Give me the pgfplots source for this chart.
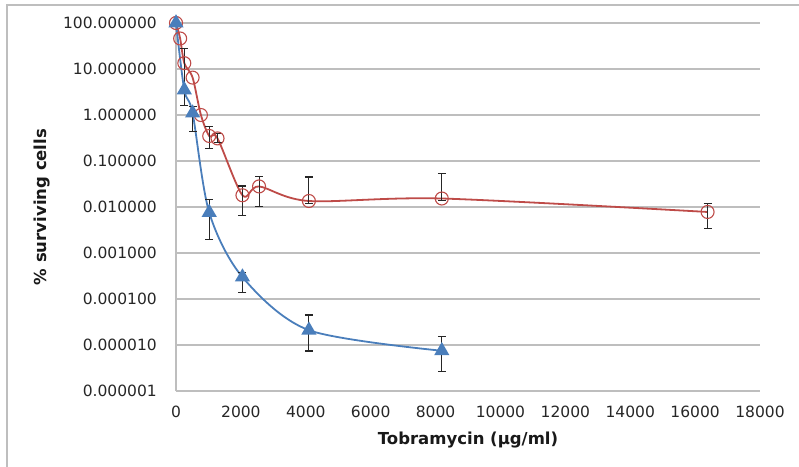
\documentclass[border=0pt]{standalone}
\usepackage{fontspec}
\setmainfont{DejaVu Sans}
\usepackage{pgfplots}
\usepackage{pgfplotstable}
\pgfplotsset{compat=1.18}

\definecolor{xlblue}{RGB}{74,126,187}
\definecolor{xlred}{RGB}{190,75,72}
\definecolor{gridgray}{RGB}{190,190,190}

% tobramycin survival, red = circles, blue = triangles
\pgfplotstableread{
x y
0 100
128 46
256 13.4
512 6.5
768 1.0
1024 0.35
1280 0.31
2048 0.018
2560 0.028
4096 0.0135
8192 0.0153
16384 0.0078
}\redline
\pgfplotstableread{
x y ep em
1024 0.35 0.22 0.16
1280 0.31 0.09 0.06
2048 0.018 0.0106 0.0116
2560 0.028 0.019 0.0178
4096 0.0135 0.0315 0.0015
8192 0.0153 0.0387 0.0013
16384 0.0078 0.0043 0.00437
}\rederr
\pgfplotstableread{
x y
0 100
256 3.5
512 1.1
1024 0.0076
2048 0.0003
4096 0.000021
8192 0.0000075
}\blueline
\pgfplotstableread{
x y ep em
256 3.5 24.5 1.9
512 1.1 0.44 0.66
1024 0.0076 0.0072 0.00566
2048 0.0003 0.00008 0.00016
4096 0.000021 0.000024 0.0000136
8192 0.0000075 0.000008 0.0000048
}\blueerr

\begin{document}
\begin{tikzpicture}
\useasboundingbox (0pt,0pt) rectangle (799pt,466pt);
\draw[line width=1.5pt, gridgray] (7pt,-20pt) -- (7pt,461pt) -- (820pt,461pt);
\begin{axis}[
  at={(176pt,75pt)}, anchor=south west,
  scale only axis, width=584pt, height=368pt,
  ymode=log, xmin=0, xmax=18000, ymin=1e-6, ymax=100,
  clip=false, scaled x ticks=false,
  axis x line*=bottom, axis y line*=left,
  axis line style={gridgray, line width=1.3pt},
  ymajorgrids, grid style={gridgray, line width=1.3pt},
  major tick length=0pt, yminorticks=false,
  xtick={0,2000,4000,6000,8000,10000,12000,14000,16000,18000},
  xticklabels={0,2000,4000,6000,8000,10000,12000,14000,16000,18000},
  ytick={1e-6,1e-5,1e-4,1e-3,1e-2,1e-1,1,10,100},
  yticklabels={0.000001,0.000010,0.000100,0.001000,0.010000,0.100000,1.000000,10.000000,100.000000},
  ticklabel style={font=\fontsize{15.5}{16}\selectfont, text=black!85},
  yticklabel style={anchor=east, inner sep=0pt, xshift=-19pt},
  xticklabel style={anchor=north, inner sep=0pt, yshift=-15pt},
  xlabel={Tobramycin (µg/ml)},
  ylabel={\% surviving cells},
  label style={font=\fontsize{16.5}{18}\selectfont\bfseries, text=black!90},
  xlabel style={at={(axis description cs:0.5,0)}, anchor=base, yshift=-53pt},
  ylabel style={at={(axis description cs:-0.2295,0.5)}, anchor=center},
]
\addplot[xlred, line width=1.8pt, smooth, tension=0.5, mark=o, mark size=6.5pt,
  mark options={solid, draw=xlred, line width=1.1pt}] table {\redline};
\addplot[xlblue, line width=1.8pt, smooth, tension=0.5, mark=triangle*, mark size=7pt,
  mark options={solid, fill=xlblue, draw=xlblue}] table {\blueline};
\addplot[draw=none, mark=none, forget plot,
  error bars/.cd, y dir=both, y explicit,
  error bar style={draw=black!85, line width=1.1pt},
  error mark options={draw=black!85, line width=1.1pt, mark size=4pt, rotate=90}]
  table[x=x, y=y, y error plus=ep, y error minus=em] {\rederr};
\addplot[draw=none, mark=none, forget plot,
  error bars/.cd, y dir=both, y explicit,
  error bar style={draw=black!85, line width=1.1pt},
  error mark options={draw=black!85, line width=1.1pt, mark size=4pt, rotate=90}]
  table[x=x, y=y, y error plus=ep, y error minus=em] {\blueerr};
\end{axis}
\end{tikzpicture}
\end{document}
